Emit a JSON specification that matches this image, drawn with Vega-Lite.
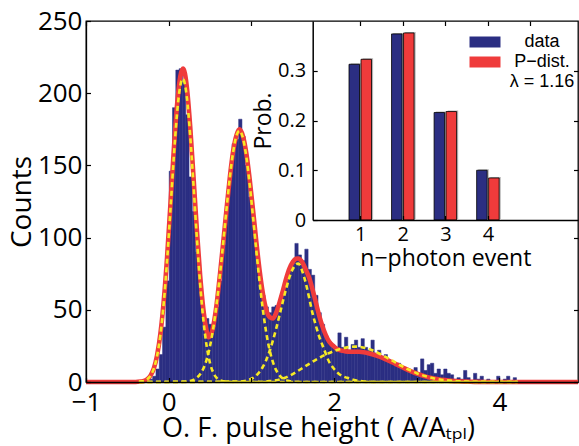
{
  "$schema": "https://vega.github.io/schema/vega-lite/v6.json",
  "width": 492,
  "height": 361,
  "autosize": {"type": "none"},
  "padding": {"left": 86, "top": 21, "right": 1, "bottom": 64},
  "background": "white",
  "config": {
    "view": {"stroke": "black", "strokeWidth": 1.3},
    "font": "Open Sans",
    "axis": {"grid": false, "domainColor": "black", "tickColor": "black", "labelColor": "black", "titleColor": "black", "titleFontWeight": "normal", "labelFont": "Open Sans", "titleFont": "Open Sans"}
  },
  "datasets": {
    "hist": [
      {"x": -0.36, "n": 0}, {"x": -0.32, "n": 0}, {"x": -0.28, "n": 1}, {"x": -0.24, "n": 2}, {"x": -0.20, "n": 4},
      {"x": -0.16, "n": 9}, {"x": -0.12, "n": 19}, {"x": -0.08, "n": 38}, {"x": -0.04, "n": 70}, {"x": 0.00, "n": 146},
      {"x": 0.04, "n": 190}, {"x": 0.08, "n": 216}, {"x": 0.12, "n": 217}, {"x": 0.16, "n": 208}, {"x": 0.20, "n": 185},
      {"x": 0.24, "n": 142}, {"x": 0.28, "n": 118}, {"x": 0.32, "n": 90}, {"x": 0.36, "n": 64}, {"x": 0.40, "n": 47},
      {"x": 0.44, "n": 44}, {"x": 0.48, "n": 40}, {"x": 0.52, "n": 38}, {"x": 0.56, "n": 52}, {"x": 0.60, "n": 70},
      {"x": 0.64, "n": 95}, {"x": 0.68, "n": 120}, {"x": 0.72, "n": 140}, {"x": 0.76, "n": 165}, {"x": 0.80, "n": 168},
      {"x": 0.84, "n": 182}, {"x": 0.88, "n": 170}, {"x": 0.92, "n": 150}, {"x": 0.96, "n": 128}, {"x": 1.00, "n": 110},
      {"x": 1.04, "n": 88}, {"x": 1.08, "n": 70}, {"x": 1.12, "n": 60}, {"x": 1.16, "n": 52}, {"x": 1.20, "n": 48},
      {"x": 1.24, "n": 52}, {"x": 1.28, "n": 53}, {"x": 1.32, "n": 55}, {"x": 1.36, "n": 62}, {"x": 1.40, "n": 72},
      {"x": 1.44, "n": 78}, {"x": 1.48, "n": 84}, {"x": 1.52, "n": 96}, {"x": 1.56, "n": 88}, {"x": 1.60, "n": 84},
      {"x": 1.64, "n": 92}, {"x": 1.68, "n": 78}, {"x": 1.72, "n": 74}, {"x": 1.76, "n": 60}, {"x": 1.80, "n": 48},
      {"x": 1.84, "n": 40}, {"x": 1.88, "n": 32}, {"x": 1.92, "n": 28}, {"x": 1.96, "n": 26}, {"x": 2.00, "n": 24},
      {"x": 2.04, "n": 34}, {"x": 2.08, "n": 24}, {"x": 2.12, "n": 31}, {"x": 2.16, "n": 22}, {"x": 2.20, "n": 26},
      {"x": 2.24, "n": 29}, {"x": 2.28, "n": 24}, {"x": 2.32, "n": 30}, {"x": 2.36, "n": 24}, {"x": 2.40, "n": 22},
      {"x": 2.44, "n": 29}, {"x": 2.48, "n": 20}, {"x": 2.52, "n": 22}, {"x": 2.56, "n": 17}, {"x": 2.60, "n": 19},
      {"x": 2.64, "n": 15}, {"x": 2.68, "n": 14}, {"x": 2.72, "n": 12}, {"x": 2.76, "n": 13}, {"x": 2.80, "n": 10},
      {"x": 2.84, "n": 9}, {"x": 2.88, "n": 8}, {"x": 2.92, "n": 7}, {"x": 2.96, "n": 10}, {"x": 3.00, "n": 6},
      {"x": 3.04, "n": 16}, {"x": 3.08, "n": 8}, {"x": 3.12, "n": 12}, {"x": 3.16, "n": 13}, {"x": 3.20, "n": 6},
      {"x": 3.24, "n": 9}, {"x": 3.28, "n": 5}, {"x": 3.32, "n": 9}, {"x": 3.36, "n": 6}, {"x": 3.40, "n": 5},
      {"x": 3.44, "n": 2}, {"x": 3.48, "n": 3}, {"x": 3.52, "n": 2}, {"x": 3.56, "n": 8}, {"x": 3.60, "n": 3},
      {"x": 3.64, "n": 1}, {"x": 3.68, "n": 6}, {"x": 3.72, "n": 2}, {"x": 3.76, "n": 4}, {"x": 3.80, "n": 1},
      {"x": 3.84, "n": 2}, {"x": 3.88, "n": 1}, {"x": 3.92, "n": 1}, {"x": 3.96, "n": 4}, {"x": 4.00, "n": 1},
      {"x": 4.04, "n": 2}, {"x": 4.08, "n": 4}, {"x": 4.12, "n": 1}, {"x": 4.16, "n": 3}, {"x": 4.20, "n": 1}
    ],
    "fit": [
      {"x": -1, "y": 0}, {"x": -0.40, "y": 0}, {"x": -0.34, "y": 0.3}, {"x": -0.30, "y": 0.7}, {"x": -0.26, "y": 1.9},
      {"x": -0.22, "y": 4.4}, {"x": -0.18, "y": 9.3}, {"x": -0.14, "y": 18.5}, {"x": -0.10, "y": 33.5}, {"x": -0.06, "y": 56},
      {"x": -0.02, "y": 86}, {"x": 0.02, "y": 122}, {"x": 0.06, "y": 159}, {"x": 0.10, "y": 191}, {"x": 0.14, "y": 211.5},
      {"x": 0.175, "y": 217}, {"x": 0.22, "y": 204}, {"x": 0.26, "y": 177}, {"x": 0.30, "y": 142}, {"x": 0.34, "y": 106},
      {"x": 0.38, "y": 74}, {"x": 0.42, "y": 50}, {"x": 0.46, "y": 35}, {"x": 0.48, "y": 31}, {"x": 0.50, "y": 31.5},
      {"x": 0.54, "y": 39}, {"x": 0.58, "y": 54}, {"x": 0.62, "y": 74.5}, {"x": 0.66, "y": 97}, {"x": 0.70, "y": 120},
      {"x": 0.74, "y": 142}, {"x": 0.78, "y": 160}, {"x": 0.82, "y": 171}, {"x": 0.855, "y": 175}, {"x": 0.90, "y": 170},
      {"x": 0.94, "y": 158}, {"x": 0.98, "y": 140}, {"x": 1.02, "y": 119}, {"x": 1.06, "y": 97}, {"x": 1.10, "y": 77},
      {"x": 1.14, "y": 61}, {"x": 1.18, "y": 50}, {"x": 1.22, "y": 45}, {"x": 1.26, "y": 44}, {"x": 1.30, "y": 48},
      {"x": 1.34, "y": 55}, {"x": 1.38, "y": 63}, {"x": 1.42, "y": 71.5}, {"x": 1.46, "y": 78.5}, {"x": 1.50, "y": 83},
      {"x": 1.54, "y": 85.3}, {"x": 1.565, "y": 85.5}, {"x": 1.62, "y": 82.5}, {"x": 1.66, "y": 77.5}, {"x": 1.70, "y": 72},
      {"x": 1.74, "y": 64}, {"x": 1.78, "y": 55}, {"x": 1.82, "y": 46}, {"x": 1.86, "y": 38.5}, {"x": 1.90, "y": 32.5},
      {"x": 1.94, "y": 28}, {"x": 1.98, "y": 25.5}, {"x": 2.02, "y": 23.5}, {"x": 2.06, "y": 22.3}, {"x": 2.10, "y": 21.6},
      {"x": 2.14, "y": 21.2}, {"x": 2.20, "y": 21}, {"x": 2.30, "y": 21}, {"x": 2.38, "y": 20.4}, {"x": 2.46, "y": 19.2},
      {"x": 2.54, "y": 17.7}, {"x": 2.62, "y": 15.8}, {"x": 2.70, "y": 13.7}, {"x": 2.78, "y": 11.5}, {"x": 2.86, "y": 9.3},
      {"x": 2.94, "y": 7.2}, {"x": 3.02, "y": 5.4}, {"x": 3.10, "y": 3.9}, {"x": 3.18, "y": 2.7}, {"x": 3.26, "y": 1.9},
      {"x": 3.34, "y": 1.3}, {"x": 3.42, "y": 0.8}, {"x": 3.50, "y": 0.5}, {"x": 3.60, "y": 0.25}, {"x": 3.70, "y": 0.1},
      {"x": 3.85, "y": 0}, {"x": 4.95, "y": 0}
    ],
    "comps": [
      {"c": "g1", "x": -0.36, "y": 0.16}, {"c": "g1", "x": -0.34, "y": 0.28}, {"c": "g1", "x": -0.30, "y": 0.75}, {"c": "g1", "x": -0.26, "y": 1.88},
      {"c": "g1", "x": -0.22, "y": 4.34}, {"c": "g1", "x": -0.18, "y": 9.22}, {"c": "g1", "x": -0.14, "y": 18.1}, {"c": "g1", "x": -0.10, "y": 32.7},
      {"c": "g1", "x": -0.06, "y": 54.5}, {"c": "g1", "x": -0.02, "y": 83.6}, {"c": "g1", "x": 0.02, "y": 118.3}, {"c": "g1", "x": 0.06, "y": 154.2},
      {"c": "g1", "x": 0.10, "y": 185.3}, {"c": "g1", "x": 0.14, "y": 205.2}, {"c": "g1", "x": 0.17, "y": 210}, {"c": "g1", "x": 0.22, "y": 197.0},
      {"c": "g1", "x": 0.26, "y": 170.8}, {"c": "g1", "x": 0.30, "y": 136.5}, {"c": "g1", "x": 0.34, "y": 100.5}, {"c": "g1", "x": 0.38, "y": 68.2},
      {"c": "g1", "x": 0.42, "y": 42.7}, {"c": "g1", "x": 0.46, "y": 24.6}, {"c": "g1", "x": 0.50, "y": 13.1}, {"c": "g1", "x": 0.54, "y": 6.39},
      {"c": "g1", "x": 0.58, "y": 2.88}, {"c": "g1", "x": 0.62, "y": 1.2}, {"c": "g1", "x": 0.66, "y": 0.46}, {"c": "g1", "x": 0.70, "y": 0.16},
      {"c": "g1", "x": 0.78, "y": 0}, {"c": "g1", "x": 4.22, "y": 0},
      {"c": "g2", "x": -0.36, "y": 0}, {"c": "g2", "x": 0.10, "y": 0.03}, {"c": "g2", "x": 0.18, "y": 0.15}, {"c": "g2", "x": 0.22, "y": 0.35},
      {"c": "g2", "x": 0.26, "y": 0.74}, {"c": "g2", "x": 0.30, "y": 1.5}, {"c": "g2", "x": 0.34, "y": 2.9}, {"c": "g2", "x": 0.38, "y": 5.35},
      {"c": "g2", "x": 0.42, "y": 9.38}, {"c": "g2", "x": 0.46, "y": 15.7}, {"c": "g2", "x": 0.50, "y": 24.9}, {"c": "g2", "x": 0.54, "y": 37.6},
      {"c": "g2", "x": 0.58, "y": 54.2}, {"c": "g2", "x": 0.62, "y": 74.2}, {"c": "g2", "x": 0.66, "y": 96.8}, {"c": "g2", "x": 0.70, "y": 120.1},
      {"c": "g2", "x": 0.74, "y": 141.9}, {"c": "g2", "x": 0.78, "y": 159.5}, {"c": "g2", "x": 0.82, "y": 170.7}, {"c": "g2", "x": 0.855, "y": 174},
      {"c": "g2", "x": 0.90, "y": 168.6}, {"c": "g2", "x": 0.94, "y": 155.6}, {"c": "g2", "x": 0.98, "y": 136.7}, {"c": "g2", "x": 1.02, "y": 114.3},
      {"c": "g2", "x": 1.06, "y": 91.0}, {"c": "g2", "x": 1.10, "y": 68.9}, {"c": "g2", "x": 1.14, "y": 49.7}, {"c": "g2", "x": 1.18, "y": 34.1},
      {"c": "g2", "x": 1.22, "y": 22.3}, {"c": "g2", "x": 1.26, "y": 13.9}, {"c": "g2", "x": 1.30, "y": 8.19}, {"c": "g2", "x": 1.34, "y": 4.61},
      {"c": "g2", "x": 1.38, "y": 2.47}, {"c": "g2", "x": 1.42, "y": 1.26}, {"c": "g2", "x": 1.46, "y": 0.61}, {"c": "g2", "x": 1.50, "y": 0.28},
      {"c": "g2", "x": 1.54, "y": 0.12}, {"c": "g2", "x": 1.62, "y": 0}, {"c": "g2", "x": 4.22, "y": 0},
      {"c": "g3", "x": -0.36, "y": 0}, {"c": "g3", "x": 0.86, "y": 0.3}, {"c": "g3", "x": 0.90, "y": 0.54}, {"c": "g3", "x": 0.94, "y": 0.98},
      {"c": "g3", "x": 0.98, "y": 1.69}, {"c": "g3", "x": 1.02, "y": 2.83}, {"c": "g3", "x": 1.06, "y": 4.55}, {"c": "g3", "x": 1.10, "y": 7.07},
      {"c": "g3", "x": 1.14, "y": 10.58}, {"c": "g3", "x": 1.18, "y": 15.3}, {"c": "g3", "x": 1.22, "y": 21.3}, {"c": "g3", "x": 1.26, "y": 28.6},
      {"c": "g3", "x": 1.30, "y": 37.0}, {"c": "g3", "x": 1.34, "y": 46.2}, {"c": "g3", "x": 1.38, "y": 55.6}, {"c": "g3", "x": 1.42, "y": 64.6},
      {"c": "g3", "x": 1.46, "y": 72.4}, {"c": "g3", "x": 1.50, "y": 78.2}, {"c": "g3", "x": 1.54, "y": 81.4}, {"c": "g3", "x": 1.565, "y": 82},
      {"c": "g3", "x": 1.58, "y": 81.5}, {"c": "g3", "x": 1.62, "y": 76}, {"c": "g3", "x": 1.66, "y": 68}, {"c": "g3", "x": 1.70, "y": 58},
      {"c": "g3", "x": 1.74, "y": 47.5}, {"c": "g3", "x": 1.78, "y": 39}, {"c": "g3", "x": 1.82, "y": 31.5}, {"c": "g3", "x": 1.86, "y": 25.5},
      {"c": "g3", "x": 1.90, "y": 19.5}, {"c": "g3", "x": 1.94, "y": 14}, {"c": "g3", "x": 1.98, "y": 10.5}, {"c": "g3", "x": 2.02, "y": 7.8},
      {"c": "g3", "x": 2.06, "y": 5.6}, {"c": "g3", "x": 2.10, "y": 4.2}, {"c": "g3", "x": 2.14, "y": 3.2}, {"c": "g3", "x": 2.18, "y": 2.6},
      {"c": "g3", "x": 2.22, "y": 1.8}, {"c": "g3", "x": 2.26, "y": 1.2}, {"c": "g3", "x": 2.30, "y": 0.8}, {"c": "g3", "x": 2.34, "y": 0.5},
      {"c": "g3", "x": 2.40, "y": 0.2}, {"c": "g3", "x": 2.50, "y": 0}, {"c": "g3", "x": 4.22, "y": 0},
      {"c": "g4", "x": -0.36, "y": 0}, {"c": "g4", "x": 1.10, "y": 0.1}, {"c": "g4", "x": 1.20, "y": 0.5}, {"c": "g4", "x": 1.30, "y": 1.2},
      {"c": "g4", "x": 1.40, "y": 2.8}, {"c": "g4", "x": 1.50, "y": 5.5}, {"c": "g4", "x": 1.60, "y": 9.0}, {"c": "g4", "x": 1.70, "y": 12.6},
      {"c": "g4", "x": 1.80, "y": 16.0}, {"c": "g4", "x": 1.90, "y": 19.0}, {"c": "g4", "x": 2.00, "y": 21.5}, {"c": "g4", "x": 2.10, "y": 23.3},
      {"c": "g4", "x": 2.20, "y": 24.3}, {"c": "g4", "x": 2.25, "y": 24.5}, {"c": "g4", "x": 2.30, "y": 24.4}, {"c": "g4", "x": 2.40, "y": 23.2},
      {"c": "g4", "x": 2.50, "y": 21.0}, {"c": "g4", "x": 2.60, "y": 18.1}, {"c": "g4", "x": 2.70, "y": 14.9}, {"c": "g4", "x": 2.80, "y": 11.6},
      {"c": "g4", "x": 2.90, "y": 8.63}, {"c": "g4", "x": 3.00, "y": 6.11}, {"c": "g4", "x": 3.10, "y": 4.12}, {"c": "g4", "x": 3.20, "y": 2.64},
      {"c": "g4", "x": 3.30, "y": 1.61}, {"c": "g4", "x": 3.40, "y": 0.94}, {"c": "g4", "x": 3.50, "y": 0.52}, {"c": "g4", "x": 3.60, "y": 0.27},
      {"c": "g4", "x": 3.70, "y": 0.14}, {"c": "g4", "x": 3.80, "y": 0.07}, {"c": "g4", "x": 4.22, "y": 0}
    ],
    "prob": [
      {"k": 1, "p": 0.313, "s": "data"}, {"k": 1, "p": 0.323, "s": "P−dist."},
      {"k": 2, "p": 0.374, "s": "data"}, {"k": 2, "p": 0.376, "s": "P−dist."},
      {"k": 3, "p": 0.216, "s": "data"}, {"k": 3, "p": 0.218, "s": "P−dist."},
      {"k": 4, "p": 0.100, "s": "data"}, {"k": 4, "p": 0.0845, "s": "P−dist."}
    ]
  },
  "layer": [
    {
      "data": {"name": "hist"},
      "mark": {"type": "bar", "color": "#2b2e82", "binSpacing": 0, "stroke": "#2b2e82", "strokeWidth": 0.5},
      "encoding": {
        "x": {"field": "x", "type": "quantitative", "bin": {"binned": true, "step": 0.04},
          "scale": {"domain": [-1, 4.95], "nice": false, "zero": false},
          "axis": {"title": "O. F. pulse height ( A/Aₜₚₗ)", "values": [-1, 0, 1, 2, 3, 4],
            "labelExpr": "datum.value == 1 || datum.value == 3 ? '' : format(datum.value, 'd')",
            "labelFlush": false, "labelOverlap": false, "tickSize": -4.5, "tickWidth": 1.2, "zindex": 1,
            "labelFontSize": 26, "labelPadding": 12, "titleFontSize": 27, "titlePadding": 0, "titleX": 232, "domainWidth": 1.3}},
        "y": {"field": "n", "type": "quantitative",
          "scale": {"domain": [0, 250], "nice": false},
          "axis": {"title": "Counts", "values": [0, 50, 100, 150, 200, 250], "tickSize": -4.5, "tickWidth": 1.2, "zindex": 1,
            "labelFontSize": 26, "labelPadding": 8.5, "titleFontSize": 28, "titlePadding": 1, "labelFlush": false, "labelOverlap": false, "domainWidth": 1.3}}
      }
    },
    {
      "data": {"name": "fit"},
      "mark": {"type": "line", "color": "#ef3b3b", "strokeWidth": 4.6, "interpolate": "monotone"},
      "encoding": {
        "x": {"field": "x", "type": "quantitative", "scale": {"domain": [-1, 4.95], "nice": false, "zero": false},
          "axis": {"orient": "top", "title": null, "values": [-1, 0, 1], "labels": false, "domain": false, "tickSize": -4.5, "tickWidth": 1.2, "zindex": 1}},
        "y": {"field": "y", "type": "quantitative", "scale": {"domain": [0, 250], "nice": false},
          "axis": {"orient": "right", "title": null, "values": [0, 50, 100], "labels": false, "domain": false, "tickSize": -4.5, "tickWidth": 1.2, "zindex": 1}}
      }
    },
    {
      "data": {"name": "comps"},
      "mark": {"type": "line", "color": "#f6e924", "strokeWidth": 2.6, "strokeDash": [5, 3.5], "interpolate": "monotone"},
      "encoding": {
        "x": {"field": "x", "type": "quantitative", "scale": {"domain": [-1, 4.95], "nice": false, "zero": false}, "axis": null},
        "y": {"field": "y", "type": "quantitative", "scale": {"domain": [0, 250], "nice": false}, "axis": null},
        "detail": {"field": "c", "type": "nominal"}
      }
    },
    {
      "data": {"name": "prob"},
      "mark": {"type": "bar", "color": "#b4b4b4", "width": 10.5, "xOffset": -4.4, "yOffset": -1},
      "transform": [{"filter": "datum.s == 'data'"}],
      "encoding": {
        "x": {"field": "k", "type": "quantitative", "scale": {"domain": [0, 6], "range": [226.7, 492], "nice": false, "zero": false},
          "axis": {"orient": "bottom", "offset": -162, "values": [1, 2, 3, 4], "tickSize": -4.5, "tickWidth": 1.2, "zindex": 1,
            "labelExpr": "format(datum.value, 'd')",
            "labelFontSize": 20, "labelPadding": 9, "labelFlush": false, "title": "n−photon event", "titleFontSize": 23, "titlePadding": 3, "domainWidth": 1.5}},
        "y": {"field": "p", "type": "quantitative", "scale": {"domain": [0, 0.4], "range": [199, 0], "nice": false},
          "axis": {"orient": "left", "offset": -226.7, "values": [0, 0.1, 0.2, 0.3], "tickSize": -4.5, "tickWidth": 1.2, "zindex": 1,
            "labelExpr": "datum.value == 0 ? '0' : format(datum.value, '.1f')",
            "labelFontSize": 20, "labelPadding": 11.5, "title": "Prob.", "titleFontSize": 23, "titlePadding": 2, "domainWidth": 1.5}}
      }
    },
    {
      "data": {"name": "prob"},
      "mark": {"type": "bar", "color": "#b4b4b4", "width": 10.5, "xOffset": 7.6, "yOffset": -1},
      "transform": [{"filter": "datum.s != 'data'"}],
      "encoding": {
        "x": {"field": "k", "type": "quantitative", "scale": {"domain": [0, 6], "range": [226.7, 492], "nice": false, "zero": false},
          "axis": {"orient": "top", "title": null, "values": [1, 2, 3, 4, 5], "labels": false, "domain": false, "tickSize": -4.5, "tickWidth": 1.2, "zindex": 1}},
        "y": {"field": "p", "type": "quantitative", "scale": {"domain": [0, 0.4], "range": [199, 0], "nice": false},
          "axis": {"orient": "right", "title": null, "values": [0.1, 0.2, 0.3], "labels": false, "domain": false, "tickSize": -4.5, "tickWidth": 1.2, "zindex": 1}}
      }
    },
    {
      "data": {"name": "prob"},
      "mark": {"type": "bar", "width": 10.5, "xOffset": -6, "stroke": "black", "strokeWidth": 0.8},
      "transform": [{"filter": "datum.s == 'data'"}],
      "encoding": {
        "x": {"field": "k", "type": "quantitative", "scale": {"domain": [0, 6], "range": [226.7, 492], "nice": false, "zero": false}, "axis": null},
        "y": {"field": "p", "type": "quantitative", "scale": {"domain": [0, 0.4], "range": [199, 0], "nice": false}, "axis": null},
        "color": {"field": "s", "type": "nominal",
          "scale": {"domain": ["data", "P−dist."], "range": ["#2b2e82", "#ef3b3b"]},
          "legend": {"orient": "none", "legendX": 390, "legendY": 12, "title": null, "padding": 0,
            "symbolType": "M-3.1,-1.1H3.1V1.1H-3.1Z", "symbolSize": 100, "symbolStrokeWidth": 0, "symbolOpacity": 1,
            "labelFont": "Liberation Sans", "labelFontSize": 18, "labelColor": "black", "labelAlign": "center", "labelOffset": 48, "labelLimit": 300,
            "labelExpr": "datum.label == 'data' ? 'data' : ['P−dist.', 'λ = 1.16']", "rowPadding": 2}}
      }
    },
    {
      "data": {"name": "prob"},
      "mark": {"type": "bar", "width": 10.5, "xOffset": 6, "stroke": "black", "strokeWidth": 0.8},
      "transform": [{"filter": "datum.s != 'data'"}],
      "encoding": {
        "x": {"field": "k", "type": "quantitative", "scale": {"domain": [0, 6], "range": [226.7, 492], "nice": false, "zero": false}, "axis": null},
        "y": {"field": "p", "type": "quantitative", "scale": {"domain": [0, 0.4], "range": [199, 0], "nice": false}, "axis": null},
        "color": {"field": "s", "type": "nominal", "legend": null}
      }
    }
  ],
  "resolve": {"scale": {"x": "independent", "y": "independent"}}
}
